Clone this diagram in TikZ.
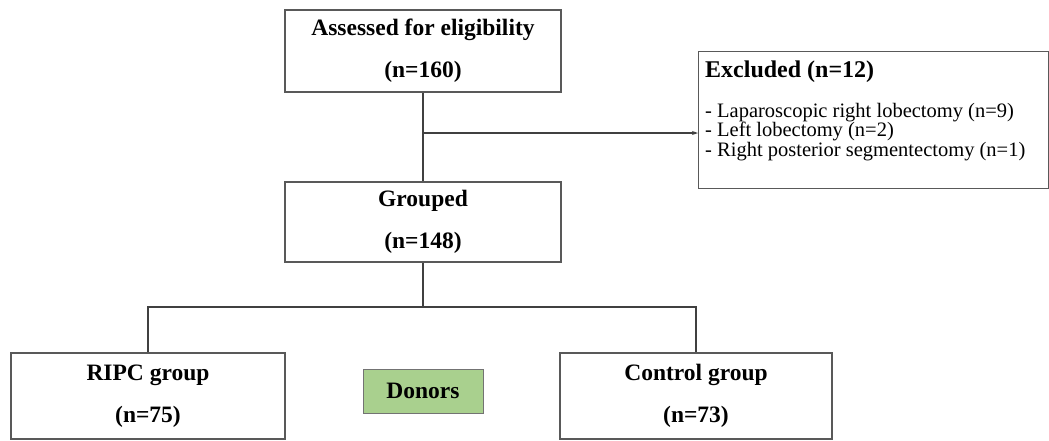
\documentclass[tikz,border=0pt]{standalone}
\usepackage{fontspec}
\setmainfont{Liberation Serif}
\usetikzlibrary{arrows.meta}

\definecolor{donorgreen}{HTML}{A9D08E}
\tikzset{
  flowbox/.style={draw=black!65, line width=1.3pt, fill=white, minimum width=276pt,
    minimum height=82pt, align=center, inner sep=0pt,
    font=\fontsize{23.5}{42}\selectfont\bfseries},
  link/.style={draw=black!75, line width=1.2pt},
}

\begin{document}
\begin{tikzpicture}[x=1pt,y=-1pt]
  \useasboundingbox (0,0) rectangle (1049,440);
  % boxes
  \node[flowbox] (assess) at (423,51) {Assessed for eligibility\\(n=160)};
  \node[flowbox, minimum height=80pt] (grouped) at (423,222) {Grouped\\(n=148)};
  \node[flowbox, minimum width=274pt, minimum height=86pt] (ripc) at (148,396) {RIPC group\\(n=75)};
  \node[flowbox, minimum width=272pt, minimum height=86pt] (control) at (696,396) {Control group\\(n=73)};
  \node[flowbox, fill=donorgreen, draw=black!55, line width=1pt, minimum width=120pt,
    minimum height=44pt] (donors) at (423,391) {Donors};
  % excluded
  \node[draw=black!65, line width=1.3pt, minimum width=350pt, minimum height=137pt,
    anchor=north west] (excl) at (698,51) {};
  \node[anchor=base west, inner sep=0pt, font=\fontsize{24}{24}\selectfont\bfseries]
    (exclhead) at (705,77) {Excluded (n=12)};
  \node[anchor=north west, inner sep=0pt, align=left, font=\fontsize{20.5}{19.5}\selectfont]
    (excllist) at (705,103) {- Laparoscopic right lobectomy (n=9)\\- Left lobectomy (n=2)\\- Right posterior segmentectomy (n=1)};
  % connectors
  \coordinate (split) at (423,133);
  \coordinate (branch) at (423,307);
  \draw[link] (assess) -- (grouped);
  \draw[link, -{Stealth[length=6pt,width=4pt]}] (split) -- (split -| excl.west);
  \draw[link, line width=2.2pt] (grouped) -- (branch);
  \draw[link] (ripc.north) |- (branch) -| (control.north);
\end{tikzpicture}
\end{document}
